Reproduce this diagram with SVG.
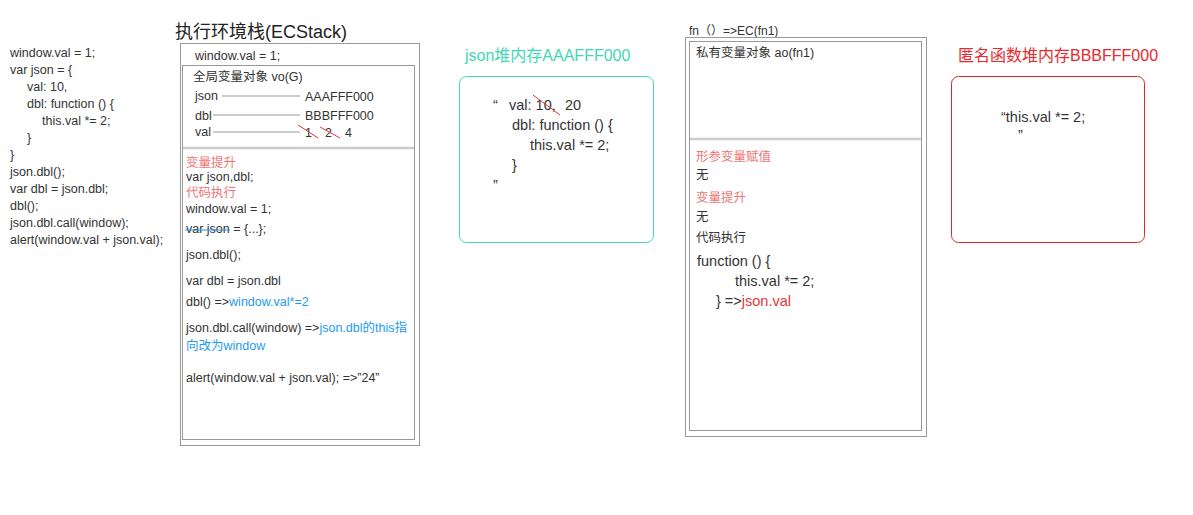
<svg xmlns="http://www.w3.org/2000/svg" width="1193" height="515" viewBox="0 0 1193 515">
<style>
text{font-family:"Liberation Sans","Noto Sans CJK SC",sans-serif;fill:#333;font-size:12.5px}
.t{font-size:18px;fill:#222}
.h{font-size:16px}
.big{font-size:14.5px}
.lr{fill:#f07575}
.bl{fill:#1e9bf0}
.rd{fill:#e53535}
.box{fill:none;stroke:#999;stroke-width:1}
.div{stroke:#ccc;stroke-width:2.5}
.ln{stroke:#ccc;stroke-width:2}
.strike{stroke:#e53535;stroke-width:1}
</style>
<rect width="1193" height="515" fill="#fff"/>

<g id="code">
<text x="10" y="57">window.val = 1;</text>
<text x="10" y="74">var json = {</text>
<text x="27" y="91">val: 10,</text>
<text x="27" y="108">dbl: function () {</text>
<text x="42" y="125">this.val *= 2;</text>
<text x="27" y="142">}</text>
<text x="10" y="159">}</text>
<text x="10" y="176">json.dbl();</text>
<text x="10" y="193">var dbl = json.dbl;</text>
<text x="10" y="210">dbl();</text>
<text x="10" y="227">json.dbl.call(window);</text>
<text x="10" y="244">alert(window.val + json.val);</text>
</g>

<g id="ecstack">
<text class="t" x="175" y="38">执行环境栈(ECStack)</text>
<rect class="box" x="180.5" y="43.5" width="239" height="402"/>
<rect class="box" x="182.5" y="65.5" width="232" height="374"/>
<line class="div" x1="183" y1="148" x2="414" y2="148"/>
<text x="195" y="60">window.val = 1;</text>
<text x="193" y="81">全局变量对象 vo(G)</text>
<text x="195" y="100">json</text>
<text x="305" y="101">AAAFFF000</text>
<text x="195" y="120">dbl</text>
<text x="305" y="120">BBBFFF000</text>
<text x="195" y="136">val</text>
<text x="305" y="137">1</text>
<text x="325" y="137">2</text>
<text x="345" y="137">4</text>
<line class="strike" x1="298" y1="125" x2="318" y2="138"/>
<line class="strike" x1="320" y1="127" x2="340" y2="138"/>
<text class="lr" x="186" y="167">变量提升</text>
<text x="186" y="181">var json,dbl;</text>
<text class="lr" x="186" y="197">代码执行</text>
<text x="186" y="213">window.val = 1;</text>
<text x="186" y="233">var json = {...};</text>
<line x1="185" y1="230" x2="230" y2="230" stroke="#1e9bf0" stroke-width="1.2"/>
<text x="186" y="259">json.dbl();</text>
<text x="186" y="285">var dbl = json.dbl</text>
<text x="186" y="306">dbl() =&gt;<tspan class="bl">window.val*=2</tspan></text>
<text x="186" y="332">json.dbl.call(window) =&gt;<tspan class="bl">json.dbl的this指</tspan></text>
<text class="bl" x="186" y="350">向改为window</text>
<text x="186" y="382">alert(window.val + json.val); =&gt;”24”</text>
</g>

<g id="connectors">
<line class="ln" x1="222" y1="96" x2="300" y2="96"/>
<line class="ln" x1="213" y1="115" x2="300" y2="115"/>
<line class="ln" x1="213" y1="132" x2="300" y2="132"/>
</g>

<g id="json-heap">
<text class="h" x="465" y="61" style="fill:#3fd8b4">json堆内存AAAFFF000</text>
<rect x="459.5" y="76.5" width="194" height="166" rx="7" fill="none" stroke="#40d9b3" stroke-width="1"/>
<text class="big" x="493" y="110">“</text>
<text class="big" x="509" y="110">val: 10,<tspan x="565">20</tspan></text>
<line class="strike" x1="533" y1="95" x2="560" y2="115"/>
<text class="big" x="512" y="130">dbl: function () {</text>
<text class="big" x="530" y="150">this.val *= 2;</text>
<text class="big" x="512" y="170">}</text>
<text class="big" x="493" y="190">”</text>
</g>

<g id="fn-ec">
<text x="689" y="35" style="font-size:12px">fn（）=&gt;EC(fn1)</text>
<rect class="box" x="685.5" y="37.5" width="241" height="399"/>
<rect class="box" x="689.5" y="41.5" width="232" height="389"/>
<line class="div" x1="690" y1="139" x2="921" y2="139"/>
<text x="696" y="57">私有变量对象 ao(fn1)</text>
<text class="lr" x="696" y="161">形参变量赋值</text>
<text x="696" y="179">无</text>
<text class="lr" x="696" y="202">变量提升</text>
<text x="696" y="221">无</text>
<text x="696" y="242">代码执行</text>
<text class="big" x="697" y="266">function () {</text>
<text class="big" x="735" y="286">this.val *= 2;</text>
<text class="big" x="716" y="306">} =&gt;<tspan class="rd">json.val</tspan></text>
</g>

<g id="fn-heap">
<text class="h" x="958" y="61" style="fill:#e8282d">匿名函数堆内存BBBFFF000</text>
<rect x="951.5" y="76.5" width="193" height="166" rx="7" fill="none" stroke="#e02828" stroke-width="1"/>
<text class="big" x="1001" y="122">“this.val *= 2;</text>
<text class="big" x="1018" y="140">”</text>
</g>
</svg>
